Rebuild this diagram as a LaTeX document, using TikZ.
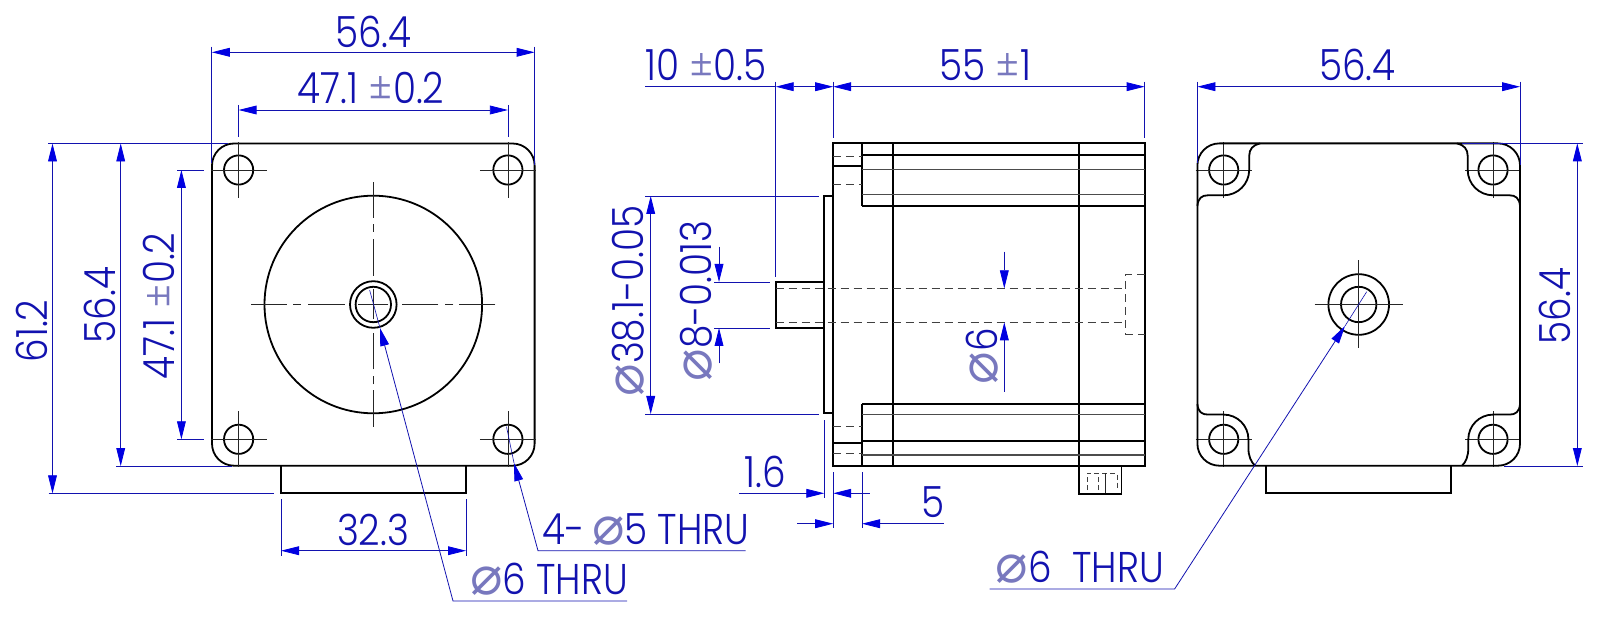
\documentclass[tikz,border=0pt]{standalone}
\usepackage{fontspec}
\setmainfont[FakeStretch=0.87,UprightFont=* Light]{Poppins}
\newfontfamily\symfont{DejaVu Sans}
\usetikzlibrary{arrows.meta}
\definecolor{dimblue}{RGB}{18,18,175}
\definecolor{tipblue}{RGB}{0,0,225}
\definecolor{lightblue}{RGB}{120,120,190}
\newcommand{\dia}{{\symfont\color{lightblue}\fontsize{27}{27}\selectfont ⌀}}
\newcommand{\pmsign}{{\color{lightblue}±}}
\tikzset{
  outline/.style={black, line width=0.9pt},
  greyline/.style={black!70, line width=0.7pt},
  hidden/.style={black!75, line width=0.5pt, dash pattern=on 4pt off 2.5pt},
  smallhidden/.style={black!75, line width=0.35pt, dash pattern=on 2.5pt off 1.5pt},
  thinline/.style={black!85, line width=0.4pt},
  dimline/.style={dimblue, line width=0.4pt},
  dimhead/.tip={Triangle[length=9pt,width=4.4pt,fill=tipblue,color=tipblue]},
  dimtip/.style={-dimhead},
  dimboth/.style={dimhead-dimhead},
  dimtext/.style={dimblue, inner sep=0pt, font=\fontsize{21.5}{21.5}\selectfont},
  sidetext/.style={dimtext, rotate=90},
}
\begin{document}
\begin{tikzpicture}[x=0.5pt, y=-0.5pt]
  \useasboundingbox (0,0) rectangle (1600,625);

  % Front view: plate, boss and pilot
  \draw [outline, rounded corners=11pt] (212,143.5) rectangle (534.6,465.7);
  \draw [outline] (281,465.7) -- (281,493.3) -- (466,493.3) -- (466,465.7);
  \draw [outline] (373.3,304.5) circle [radius=108.8];
  \draw [outline] (373.3,304.5) circle [radius=23.3];
  \draw [outline] (373.3,304.5) circle [radius=17.7];
  % Mounting holes of the front and rear views
  \foreach \cx/\cy in {238.6/170, 507.9/170, 238.6/439.3, 507.9/439.3,
      1223.7/170, 1493/170, 1223.7/439.3, 1493/439.3} {
    \draw [outline] (\cx,\cy) circle [radius=14.6];
    \draw [thinline] (\cx-28,\cy) -- (\cx+28,\cy);
    \draw [thinline] (\cx,\cy-28) -- (\cx,\cy+28);
  }
  % Centre lines of the boss
  \foreach \sx/\sy in {-1/0, 1/0, 0/-1, 0/1} {
    \draw [thinline] (373.3+\sx*122,304.5+\sy*122) -- (373.3+\sx*86,304.5+\sy*86);
    \draw [thinline] (373.3+\sx*80,304.5+\sy*80) -- (373.3+\sx*72,304.5+\sy*72);
    \draw [thinline] (373.3+\sx*65,304.5+\sy*65) -- (373.3+\sx*28.3,304.5+\sy*28.3);
    \draw [thinline] (373.3+\sx*15,304.5+\sy*15) -- (373.3,304.5);
  }

  % Side view: body
  \draw [outline] (832.9,143.3) rectangle (1144.6,465.7);
  \draw [outline] (862,143.3) -- (862,206);
  \draw [outline] (862,404) -- (862,465.7);
  \foreach \lx in {892.9, 1078.6} {
    \draw [outline] (\lx,143.3) -- (\lx,465.7);
  }
  \foreach \ly in {154.7, 206, 404, 440.7} {
    \draw [outline] (862,\ly) -- (1144.6,\ly);
  }
  \foreach \ly in {169.3, 194.3, 414.3, 455} {
    \draw [greyline] (862,\ly) -- (1144.6,\ly);
  }
  \draw [outline] (832.9,166) -- (862,166);
  \draw [outline] (832.9,443.3) -- (862,443.3);
  \foreach \ly in {156.7, 184.3, 426, 453.7} {
    \draw [hidden] (832.9,\ly) -- (862,\ly);
  }
  % Pilot, shaft and bore
  \draw [outline] (832.9,195.7) -- (824.3,195.7) -- (824.3,413.3) -- (832.9,413.3);
  \draw [outline] (824.3,281.7) -- (775.7,281.7) -- (775.7,328.3) -- (824.3,328.3);
  \draw [hidden] (775.7,288.3) -- (1125.7,288.3);
  \draw [hidden] (775.7,322.3) -- (1125.7,322.3);
  \draw [hidden] (1144.6,274.3) -- (1125.7,274.3) -- (1125.7,334.3) -- (1144.6,334.3);
  % Connector
  \draw [outline] (1079,465.7) -- (1079,493.7) -- (1121.4,493.7) -- (1121.4,465.7);
  \draw [smallhidden] (1087,490) -- (1087,473.3) -- (1117,473.3) -- (1117,490);
  \draw [smallhidden] (1098,490) -- (1098,473.3);
  \draw [thinline] (1105,473.3) -- (1105,493);

  % Rear view: outline with the pockets round the holes
  \draw [outline, rounded corners=11pt] (1197.4,143.4) rectangle (1520,465.7);
  \draw [outline] (1197.4,206) .. controls (1198,198) and (1202,195.3) .. (1208,195.3)
    -- (1223.7,195.3) arc [start angle=90, end angle=0, radius=25.5]
    -- (1249.2,156) .. controls (1249.2,149) and (1253,145) .. (1260,143.4);
  \draw [outline] (1520,206) .. controls (1519.4,198) and (1515.4,195.3) .. (1509.4,195.3)
    -- (1493,195.3) arc [start angle=90, end angle=180, radius=25.3]
    -- (1467.7,156) .. controls (1467.7,149) and (1464,145) .. (1457,143.4);
  \draw [outline] (1197.4,404) .. controls (1198,412) and (1202,414.6) .. (1208,414.6)
    -- (1223.7,414.6) arc [start angle=270, end angle=360, radius=24.7]
    -- (1248.4,448) .. controls (1248.4,456) and (1251,462) .. (1255,465.7);
  \draw [outline] (1520,404) .. controls (1519.4,412) and (1515.4,414.6) .. (1509.4,414.6)
    -- (1493,414.6) arc [start angle=270, end angle=180, radius=24.7]
    -- (1468.3,448) .. controls (1468.3,456) and (1466,462) .. (1462,465.7);
  % Hub and rear pilot
  \draw [outline] (1358.7,304.5) circle [radius=30.3];
  \draw [outline] (1358.7,304.5) circle [radius=17.7];
  \draw [thinline] (1314.7,304.5) -- (1402.7,304.5);
  \draw [thinline] (1358.7,260.5) -- (1358.7,348.5);
  \draw [outline] (1266.3,465.7) -- (1266.3,493.3) -- (1451,493.3) -- (1451,465.7);

  % Extension lines
  \foreach \ax/\ay/\bx/\by in {
      211.8/46.7/211.8/163, 534.6/46.7/534.6/165, 238.6/105/238.6/137, 507.9/105/507.9/137,
      48/143.5/228/143.5, 116/466/232/466, 48.5/493.5/274/493.5,
      177/170/204/170, 177/439.3/203.6/439.3,
      281/499/281/556, 466/499/466/556,
      775.7/81.7/775.7/276.7, 833.2/81.7/833.2/138.3, 1144.6/81.7/1144.6/138.3,
      645.4/196/818.6/196, 645.4/414/818.6/414,
      714/282/770/282, 714/328/770/328,
      824.3/420/824.3/498, 833.2/472/833.2/528.3, 862/472/862/528.3,
      1197.4/81.7/1197.4/163, 1520/81.7/1520/165,
      1462/143.3/1582.7/143.3, 1503.6/466/1582.7/466} {
    \draw [dimline] (\ax,\ay) -- (\bx,\by);
  }
  % Dimension lines with a head at both ends
  \foreach \ax/\ay/\bx/\by in {
      211.8/52.3/534.6/52.3, 238.6/110/507.9/110,
      52.5/143.5/52.5/493.3, 120.7/143.5/120.7/466, 181.4/170/181.4/439.3,
      281/550.7/466/550.7, 650.7/196/650.7/414,
      775.7/86.7/833.2/86.7, 833.2/86.7/1144.6/86.7,
      1197.4/86.7/1520/86.7, 1577.3/143.3/1577.3/466} {
    \draw [dimline, dimboth] (\ax,\ay) -- (\bx,\by);
  }
  % Dimension lines with the heads outside
  \foreach \ax/\ay/\bx/\by in {
      719/246.7/719/282, 719/363.3/719/328,
      1004.3/251.7/1004.3/288.3, 1004.3/391.7/1004.3/322.3,
      739/493.3/824.3/493.3, 869.6/493.3/833.2/493.3,
      797/523.7/833.2/523.7, 943.6/523.7/862/523.7} {
    \draw [dimline, dimtip] (\ax,\ay) -- (\bx,\by);
  }
  \draw [dimline] (645.4,86.7) -- (775.7,86.7);

  % Leaders
  \foreach \ex/\ey/\tx/\ty/\ix/\iy/\fx in {
      453/601/380/328/369.6/290/627,
      538/550.7/514/463/506.5/426.7/745.5,
      1174.6/589/1345/326/1366.7/291.7/989.5} {
    \draw [dimline, dimtip] (\fx,\ey) -- (\ex,\ey) -- (\tx,\ty);
    \draw [dimline, line width=0.3pt] (\tx,\ty) -- (\ix,\iy);
  }

  % Labels
  \node [dimtext] (topwidth) at (373.2,32) {56.4};
  \node [dimtext] (holewidth) at (371,88) {47.1 \pmsign0.2};
  \node [sidetext] (fullheight) at (31.5,331) {61.2};
  \node [sidetext] (plateheight) at (100,305) {56.4};
  \node [sidetext] (holeheight) at (159,306) {47.1 \pmsign0.2};
  \node [dimtext] (bosswidth) at (373,530) {32.3};
  \node [dimtext] (fourholes) at (646,530) {4-\,\dia5 THRU};
  \node [dimtext] (borefront) at (549,579) {\dia6 THRU};
  \node [dimtext] (shaftlen) at (706,65) {10 \pmsign0.5};
  \node [dimtext] (bodylen) at (985,65) {55 \pmsign1};
  \node [sidetext] (pilotdia) at (628,301) {\dia38.1-0.05};
  \node [sidetext] (shaftdia) at (696.5,301) {\dia8-0.013};
  \node [sidetext] (boredia) at (982,356) {\dia6};
  \node [dimtext] (pilotlen) at (765,471.7) {1.6};
  \node [dimtext] (flangelen) at (933,502) {5};
  \node [dimtext] (rearwidth) at (1357.3,65) {56.4};
  \node [sidetext] (rearheight) at (1555,306) {56.4};
  \node [dimtext] (borerear) at (1080,567.7) {\dia6\ \ THRU};
\end{tikzpicture}
\end{document}
